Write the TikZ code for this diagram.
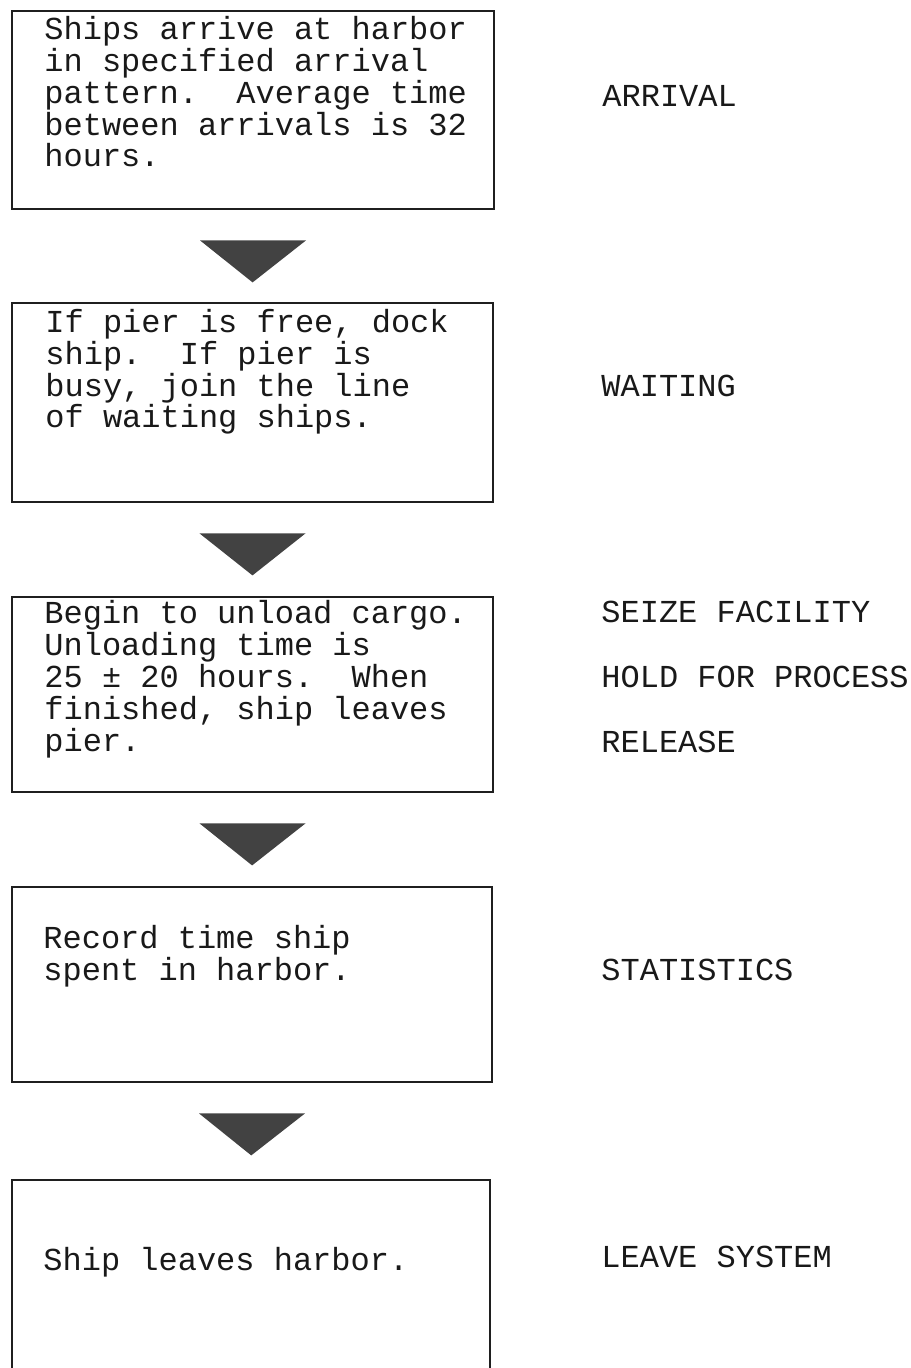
\documentclass[tikz,border=0pt]{standalone}
\usepackage{fontspec}
\newfontfamily\typer{Liberation Mono}
\usetikzlibrary{fit,calc}
% solid wedge pointing from one stage box down to the next
\newcommand\drawtip[2]{%
  \fill[flowtip] ($(#1.south)+(-53,30)$) -- ($(#1.south)+(53,30)$)
    -- ($(#1.south)!36pt!(#2.north)$) -- cycle;}
\begin{document}
\frenchspacing
\begin{tikzpicture}[x=0.5pt,y=-0.5pt,
  stage/.style={draw=black!88, line width=1.4pt, inner sep=0pt},
  typed/.style={inner sep=0pt, anchor=base west, align=left, text=black!90,
    font=\typer\fontsize{16}{15.9}\selectfont},
  flowtip/.style={fill=black!74}]
\useasboundingbox (0,0) rectangle (910,1368);
\clip (0,0) rectangle (910,1368);

% stage boxes
\node[stage, fit={(12,11) (494,209)}] (b1) {};
\node[stage, fit={(12,303) (493,502)}] (b2) {};
\node[stage, fit={(12,597) (493,792)}] (b3) {};
\node[stage, fit={(12,887) (492,1082)}] (b4) {};
\node[stage, fit={(12,1180) (490,1430)}] (b5) {};

% box texts (placed by the baseline of their last line)
\node[typed] (t1) at (44,167) {Ships arrive at harbor\\in specified arrival\\pattern.\ \ Average time\\between arrivals is 32\\hours.};
\node[typed] (t2) at (45,428) {If pier is free, dock\\ship.\ \ If pier is\\busy, join the line\\of waiting ships.};
\node[typed] (t3) at (44,751) {Begin to unload cargo.\\Unloading time is\\25 ± 20 hours.\ \ When\\finished, ship leaves\\pier.};
\node[typed] (t4) at (43,980) {Record time ship\\spent in harbor.};
\node[typed] (t5) at (43,1270) {Ship leaves harbor.};

% block names
\node[typed] (l1) at (602,107) {ARRIVAL};
\node[typed] (l2) at (601,397) {WAITING};
\node[typed] (l3) at (601,622) {SEIZE FACILITY};
\node[typed] (l4) at (601,687) {HOLD FOR PROCESS};
\node[typed] (l5) at (601,752) {RELEASE};
\node[typed] (l6) at (601,980) {STATISTICS};
\node[typed] (l7) at (601,1267) {LEAVE SYSTEM};

% flow wedges
\drawtip{b1}{b2}
\drawtip{b2}{b3}
\drawtip{b3}{b4}
\drawtip{b4}{b5}
\end{tikzpicture}
\end{document}
